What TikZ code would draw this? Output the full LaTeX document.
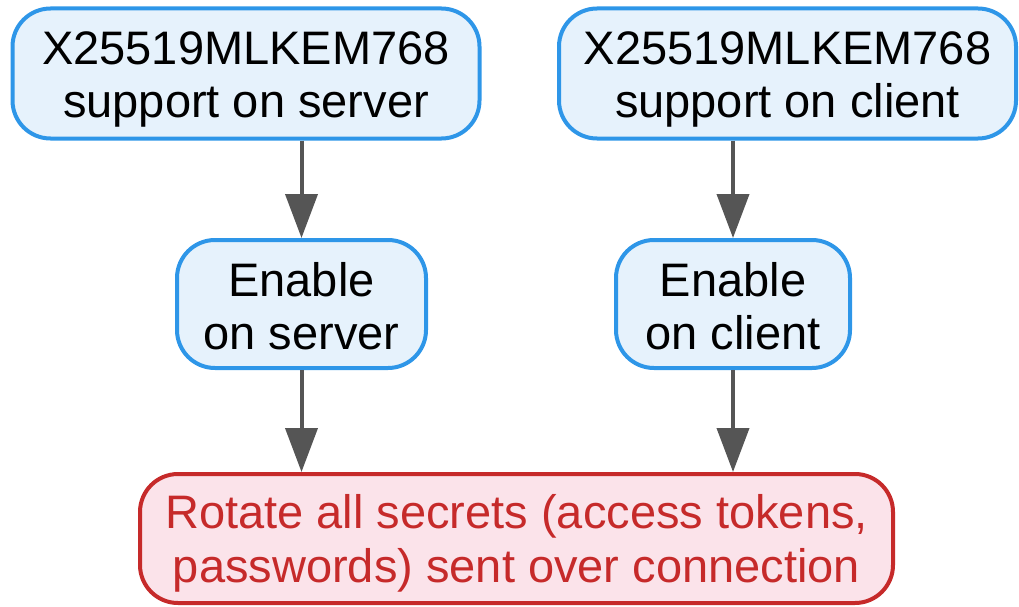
\documentclass[tikz,border=0pt]{standalone}
\usepackage{fontspec}
\setmainfont{Liberation Sans}
\usetikzlibrary{arrows.meta}
\definecolor{bluebd}{HTML}{2E96E8}
\definecolor{bluefill}{HTML}{E6F2FC}
\definecolor{redbd}{HTML}{C62A2A}
\definecolor{redfill}{HTML}{FBE3EA}
\definecolor{arrowc}{HTML}{555555}
\newcommand{\lnstrut}{\rule[-6pt]{0pt}{50pt}}
\tikzset{
  bluebox/.style={draw=bluebd, fill=bluefill, line width=4pt, rounded corners=38pt, align=center, inner sep=0pt, font=\fontsize{47}{53}\selectfont},
  redbox/.style={draw=redbd, fill=redfill, line width=4pt, rounded corners=38pt, align=center, inner sep=0pt, text=redbd, font=\fontsize{47}{53}\selectfont},
  conn/.style={draw=arrowc, line width=4pt, -{Triangle[width=32pt,length=44pt]}}
}
\begin{document}
\begin{tikzpicture}[x=1pt,y=-1pt]
\useasboundingbox (0,0) rectangle (1019,607);
\node[bluebox, minimum width=467pt, minimum height=130pt] (a) at (246,73.5) {\lnstrut X25519MLKEM768\\\lnstrut support on server};
\node[bluebox, minimum width=457pt, minimum height=130pt] (b) at (787.5,73.5) {\lnstrut X25519MLKEM768\\\lnstrut support on client};
\node[bluebox, minimum width=249pt, minimum height=128pt] (c) at (301.5,304) {\lnstrut Enable\\\lnstrut on server};
\node[bluebox, minimum width=234pt, minimum height=128pt] (d) at (733,304) {\lnstrut Enable\\\lnstrut on client};
\node[redbox, minimum width=753pt, minimum height=129pt] (e) at (516.5,538.5) {\lnstrut Rotate all secrets (access tokens,\\\lnstrut passwords) sent over connection};
\draw[conn] (c.north |- a.south) -- (c.north);
\draw[conn] (d.north |- b.south) -- (d.north);
\draw[conn] (c.south) -- (c.south |- e.north);
\draw[conn] (d.south) -- (d.south |- e.north);
\end{tikzpicture}
\end{document}
